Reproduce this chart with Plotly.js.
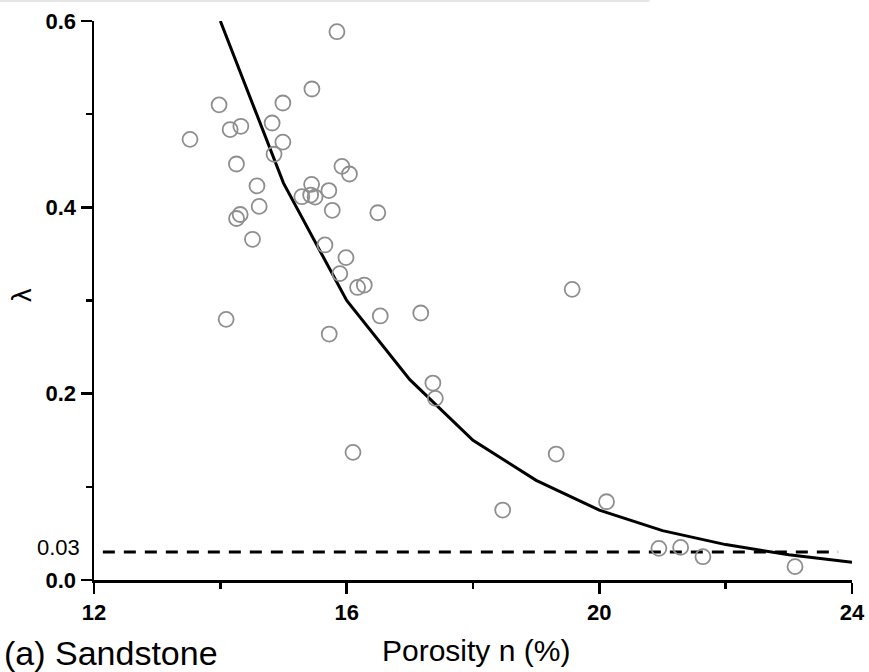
<!DOCTYPE html>
<html>
<head>
<meta charset="utf-8">
<script src="https://cdn.plot.ly/plotly-3.0.1.min.js"></script>
<style>
  html, body { margin: 0; padding: 0; background: #ffffff; }
  #chart { width: 869px; height: 672px; }
</style>
</head>
<body>
<div id="chart"></div>
<script>
// Measured data points: porosity n (%) and lambda
var porosity = [15.45, 13.98, 14.99, 14.155, 14.325, 14.82, 13.52, 14.99, 14.85, 14.255,
                15.925, 16.044, 14.58, 15.445, 15.718, 15.29, 15.43, 15.50, 14.615, 15.772,
                16.493, 14.314, 14.257, 14.509, 15.656, 15.989, 15.892, 16.279, 16.173, 16.532,
                17.173, 15.724, 17.365, 17.404, 16.10, 19.57, 19.317, 18.47, 20.114, 20.943,
                21.287, 21.64, 23.098, 15.846, 14.092];
var lambda = [0.527, 0.510, 0.512, 0.4835, 0.487, 0.4905, 0.473, 0.470, 0.457, 0.4465,
              0.444, 0.4358, 0.423, 0.4247, 0.418, 0.4114, 0.4132, 0.411, 0.401, 0.3968,
              0.3942, 0.3923, 0.388, 0.3657, 0.3596, 0.346, 0.3289, 0.3166, 0.314, 0.2834,
              0.2866, 0.264, 0.2114, 0.195, 0.137, 0.312, 0.1352, 0.0751, 0.084, 0.034,
              0.035, 0.025, 0.0143, 0.5885, 0.2798];

// Fitted curve
var fitX = [14, 15, 16, 17, 18, 19, 20, 21, 22, 23, 24];
var fitY = [0.600, 0.426, 0.300, 0.215, 0.150, 0.107, 0.075, 0.053, 0.038, 0.027, 0.019];

// Threshold line
var thresholdX = [12.14, 23.78];
var thresholdY = [0.03, 0.03];

// Axis ticks
var xTickVals = [12, 16, 20, 24];
var xTickText = ['12', '16', '20', '24'];
var yTickVals = [0, 0.2, 0.4, 0.6];
var yTickText = ['0.0', '0.2', '0.4', '0.6'];
var thresholdLabel = '0.03';

var tickFont = { family: 'Liberation Sans, Arial, sans-serif', size: 22, color: '#000000', weight: 'bold' };

var traces = [
  {
    x: thresholdX, y: thresholdY, type: 'scatter', mode: 'lines',
    line: { color: '#000000', width: 3, dash: '12px,9px' },
    hoverinfo: 'skip', showlegend: false
  },
  {
    x: fitX, y: fitY, type: 'scatter', mode: 'lines',
    line: { color: '#000000', width: 3 },
    showlegend: false
  },
  {
    x: porosity, y: lambda, type: 'scatter', mode: 'markers',
    marker: { symbol: 'circle-open', size: 15, color: '#8e8e8e', line: { width: 1.8, color: '#8e8e8e' } },
    cliponaxis: false, showlegend: false
  }
];

var layout = {
  width: 869, height: 672,
  margin: { l: 94, r: 17, t: 21, b: 92 },
  paper_bgcolor: '#ffffff', plot_bgcolor: '#ffffff',
  showlegend: false,
  xaxis: {
    range: [12, 24], showgrid: false, zeroline: false,
    showline: true, linecolor: '#000000', linewidth: 2.5,
    ticks: 'outside', ticklen: 11, tickwidth: 2.5, tickcolor: '#000000',
    tickvals: xTickVals, ticktext: xTickText, tickfont: tickFont,
    minor: { ticks: 'outside', ticklen: 6, tickwidth: 2.5, tickcolor: '#000000', dtick: 2, tick0: 12 }
  },
  yaxis: {
    range: [0, 0.6], showgrid: false, zeroline: false,
    showline: true, linecolor: '#000000', linewidth: 2.5,
    ticks: 'outside', ticklen: 11, tickwidth: 2.5, tickcolor: '#000000',
    tickvals: yTickVals, ticktext: yTickText, tickfont: tickFont,
    minor: { ticks: 'outside', ticklen: 6, tickwidth: 2.5, tickcolor: '#000000', dtick: 0.1, tick0: 0 }
  },
  shapes: [
    { type: 'line', xref: 'paper', yref: 'paper', x0: -0.124, x1: 0.733, y0: 1.036, y1: 1.036,
      line: { color: '#e6e6e6', width: 2 } }
  ],
  annotations: [
    { text: thresholdLabel, xref: 'paper', yref: 'y', x: 0, y: 0.03, xanchor: 'right', yanchor: 'middle',
      xshift: -12, yshift: 5, showarrow: false,
      font: { family: 'Liberation Sans, Arial, sans-serif', size: 22, color: '#000000' } },
    { text: 'λ', xref: 'paper', yref: 'paper', x: -0.095, y: 0.51, xanchor: 'center', yanchor: 'middle',
      textangle: -90, showarrow: false,
      font: { family: 'Liberation Sans, Arial, sans-serif', size: 27, color: '#000000' } },
    { text: 'Porosity n (%)', xref: 'paper', yref: 'paper', x: 0.504, y: -0.127, xanchor: 'center', yanchor: 'middle',
      showarrow: false,
      font: { family: 'Liberation Sans, Arial, sans-serif', size: 30, color: '#000000' } },
    { text: '(a) Sandstone', xref: 'paper', yref: 'paper', x: -0.122, y: -0.13, xanchor: 'left', yanchor: 'middle',
      showarrow: false,
      font: { family: 'Liberation Sans, Arial, sans-serif', size: 34, color: '#000000' } }
  ]
};

Plotly.newPlot('chart', traces, layout, { displayModeBar: false, staticPlot: true });
</script>
</body>
</html>
